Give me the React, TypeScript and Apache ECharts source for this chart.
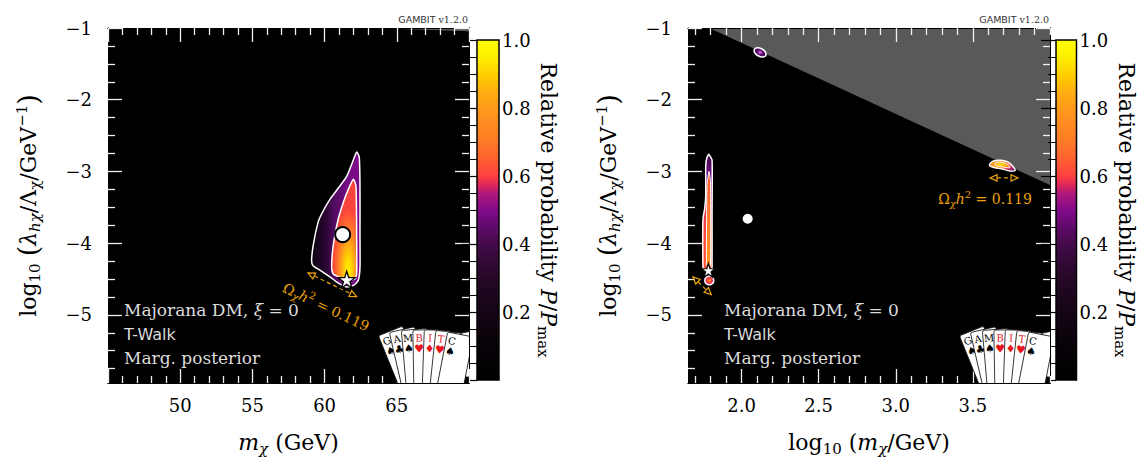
import React, { useEffect, useRef } from 'react';
import * as echarts from 'echarts';

type Pt = [number, number];

const SERIF = "'DejaVu Serif', serif";
const SANS = "'DejaVu Sans', sans-serif";
const TICK_WHITE = '#f0f0f0';
const ORANGE = '#eda20c';
const ANNOT = '#dcdcdc';

// ---------------- axis ranges & ticks ----------------
const leftXRange: Pt = [45, 70];
const rightXRange: Pt = [1.653, 4.0];
const yRange: Pt = [-5.95, -1];
const cbRange: Pt = [0, 1];

const leftXMajor = [45, 50, 55, 60, 65, 70];
const leftXMinor = [46, 47, 48, 49, 51, 52, 53, 54, 56, 57, 58, 59, 61, 62, 63, 64, 66, 67, 68, 69];
const leftXLabels = [50, 55, 60, 65];
const rightXMajor = [2.0, 2.5, 3.0, 3.5];
const rightXMinor = [1.7, 1.8, 1.9, 2.1, 2.2, 2.3, 2.4, 2.6, 2.7, 2.8, 2.9, 3.1, 3.2, 3.3, 3.4, 3.6, 3.7, 3.8, 3.9, 4.0];
const rightXLabels = [2.0, 2.5, 3.0, 3.5];
const yMajor = [-5, -4, -3, -2, -1];
const yMinor = [-5.75, -5.5, -5.25, -4.75, -4.5, -4.25, -3.75, -3.5, -3.25, -2.75, -2.5, -2.25, -1.75, -1.5, -1.25];
const yLabels = [-5, -4, -3, -2, -1];

// ---------------- colour map (relative probability) ----------------
const cmap: [number, string][] = [
  [0, '#000000'], [0.1, '#080208'], [0.2, '#150515'], [0.3, '#260826'], [0.4, '#430a4a'],
  [0.45, '#600a6a'], [0.5, '#820a8a'], [0.55, '#b0187a'], [0.575, '#e02858'], [0.6, '#ff4040'],
  [0.65, '#ff6030'], [0.7, '#ff7a28'], [0.8, '#ff9a1a'], [0.85, '#ffb010'], [0.9, '#ffd000'],
  [0.95, '#ffee00'], [1, '#ffff00'],
];

// ---------------- left panel: m_chi (GeV) ----------------
const grayLeft: Pt[] = [[63.1, -1], [70, -1.045], [70, -1]];
const outer95Left: Pt[] = [
  [62.22, -2.73], [62.4, -2.8], [62.45, -3.2], [62.45, -3.88], [62.45, -4.34], [62.33, -4.52],
  [61.99, -4.59], [61.53, -4.61], [60.9, -4.55], [60.37, -4.47], [59.7, -4.38], [59.22, -4.32],
  [59.1, -4.25], [59.22, -4.02], [59.56, -3.7], [59.8, -3.59], [60.37, -3.39], [61.07, -3.2],
  [61.53, -3.07], [61.99, -2.84],
];
const inner68Left: Pt[] = [
  [61.99, -3.11], [62.17, -3.2], [62.22, -3.88], [62.22, -4.43], [62.1, -4.5], [61.64, -4.52],
  [61.07, -4.48], [60.6, -4.43], [60.49, -4.34], [60.55, -4.11], [60.72, -3.88], [60.95, -3.66],
  [61.3, -3.43], [61.64, -3.25],
];
const meanLeft: Pt = [61.25, -3.88];
const bestLeft: Pt = [61.53, -4.51];
const arrowLeft: Pt[] = [[58.85, -4.415], [62.22, -4.745]];

// ---------------- right panel: log10(m_chi/GeV) ----------------
const grayRight: Pt[] = [[1.79, -1], [4.0, -3.19], [4.0, -1]];
const outer95Right: Pt[] = [
  [1.787, -2.76], [1.809, -2.84], [1.809, -3.57], [1.809, -4.34], [1.804, -4.38], [1.783, -4.41],
  [1.755, -4.37], [1.75, -4.34], [1.75, -3.66], [1.761, -3.52], [1.768, -3.34], [1.768, -2.93],
  [1.774, -2.82],
];
const inner68Right: Pt[] = [
  [1.789, -3.0], [1.799, -3.14], [1.799, -4.29], [1.786, -4.35], [1.773, -4.29], [1.776, -3.2],
];
const blobStarRight: Pt[] = [
  [1.82, -4.52], [1.812, -4.477], [1.791, -4.459], [1.77, -4.477], [1.762, -4.52], [1.77, -4.563],
  [1.791, -4.581], [1.812, -4.563],
];
const blobTopRight: Pt[] = [
  [2.157, -1.384], [2.137, -1.405], [2.107, -1.387], [2.085, -1.342], [2.084, -1.296],
  [2.103, -1.275], [2.133, -1.293], [2.155, -1.338],
];
const blobHighRight: Pt[] = [
  [3.611, -2.891], [3.637, -2.85], [3.676, -2.844], [3.722, -2.864], [3.754, -2.918], [3.774, -2.986],
  [3.741, -2.993], [3.689, -2.966], [3.637, -2.946], [3.611, -2.925],
];
const blobHighInnerRight: Pt[] = [
  [3.644, -2.884], [3.683, -2.871], [3.722, -2.898], [3.741, -2.946], [3.696, -2.939], [3.65, -2.918],
];
const meanRight: Pt = [2.04, -3.66];
const bestRight: Pt = [1.785, -4.38];
const arrowRight1: Pt[] = [[1.685, -4.47], [1.804, -4.72]];
const arrowRight2: Pt[] = [[3.611, -3.09], [3.793, -3.09]];

// ---------------- logo cards ----------------
const cardLetters = ['G', 'A', 'M', 'B', 'I', 'T', 'C'];
const cardSuits = ['♠', '♣', '♠', '♥', '♦', '♥', '♠'];
const cardRed = [false, false, false, true, true, true, false];

// ---------------- helpers ----------------
const stops = (s: [number, string][]) => s.map(([offset, color]) => ({ offset, color }));
const lin = (x: number, y: number, x2: number, y2: number, s: [number, string][]) =>
  ({ type: 'linear', x, y, x2, y2, colorStops: stops(s), global: false });
const rad = (x: number, y: number, r: number, s: [number, string][]) =>
  ({ type: 'radial', x, y, r, colorStops: stops(s), global: false });

const fmtNum = (v: number) => (v < 0 ? '\u2212' + Math.abs(v) : String(v));

const richTitle = {
  n: { fontFamily: SERIF, fontSize: 22, color: '#000' },
  i: { fontFamily: SERIF, fontSize: 22, fontStyle: 'italic', color: '#000' },
  s: { fontFamily: SERIF, fontSize: 15, color: '#000', padding: [12, 0, 0, 0] },
  si: { fontFamily: SERIF, fontSize: 15, fontStyle: 'italic', color: '#000', padding: [12, 0, 0, 0] },
  p: { fontFamily: SERIF, fontSize: 15, color: '#000', padding: [0, 0, 14, 0] },
  b: { fontFamily: SERIF, fontSize: 27, color: '#000' },
};

const yName = '{n|log}{s|10}{n| }{b|(}{i|λ}{si|hχ}{n|/Λ}{s|χ}{n|/GeV}{p|−1}{b|)}';
const xNameLeft = '{i|m}{si|χ}{n| (GeV)}';
const xNameRight = '{n|log}{s|10}{n| (}{i|m}{si|χ}{n|/GeV)}';
const cbName = '{n|Relative probability }{i|P}{n|/}{i|P}{s|max}';

const labelStyle = { show: true, fontFamily: SERIF, fontSize: 18, color: '#000' };

function axis(gridIndex: number, position: string, range: Pt, ticks: number[], len: number, extra: any = {}) {
  return {
    type: 'value', gridIndex, position, min: range[0], max: range[1], z: 5,
    axisLine: { show: true, onZero: false, lineStyle: { color: '#000', width: 1 } },
    axisTick: { show: true, inside: true, length: len, customValues: ticks, lineStyle: { color: TICK_WHITE, width: 1.3 } },
    axisLabel: { show: false },
    splitLine: { show: false },
    ...extra,
  };
}

function panelAxes(gi: number, xr: Pt, xMaj: number[], xMin: number[], xLab: number[], xFmt: (v: number) => string, xName: string) {
  const xs = [
    axis(gi, 'bottom', xr, xMaj, 14, {
      axisLabel: { ...labelStyle, customValues: xLab, formatter: xFmt, margin: 13 },
      name: xName, nameLocation: 'middle', nameGap: 46, nameTextStyle: { rich: richTitle },
    }),
    axis(gi, 'bottom', xr, xMin, 7),
    axis(gi, 'top', xr, xMaj, 14),
    axis(gi, 'top', xr, xMin, 7),
  ];
  const ys = [
    axis(gi, 'left', yRange, yMajor, 14, {
      axisLabel: { ...labelStyle, customValues: yLabels, formatter: fmtNum, margin: 16 },
      name: yName, nameLocation: 'middle', nameRotate: 90, nameGap: 65, nameTextStyle: { rich: richTitle },
    }),
    axis(gi, 'left', yRange, yMinor, 7),
    axis(gi, 'right', yRange, yMajor, 14),
    axis(gi, 'right', yRange, yMinor, 7),
  ];
  return { xs, ys };
}

function cbAxes(gi: number) {
  return {
    x: { type: 'value', gridIndex: gi, min: cbRange[0], max: cbRange[1], show: false },
    y: {
      type: 'value', gridIndex: gi, position: 'right', min: cbRange[0], max: cbRange[1], interval: 0.2, z: 5,
      axisLine: { show: false },
      axisTick: { show: true, inside: true, length: 15, lineStyle: { color: '#000', width: 1.2 } },
      minorTick: { show: true, splitNumber: 4, length: 8, lineStyle: { color: '#000', width: 1 } },
      axisLabel: { ...labelStyle, margin: 3, formatter: (v: number) => (v === 0 ? '' : v.toFixed(1)) },
      splitLine: { show: false },
      name: cbName, nameLocation: 'middle', nameRotate: -90, nameGap: 36, nameTextStyle: { rich: richTitle },
    },
  };
}

function polygon(p: number, pts: Pt[], style: any, z = 3, smooth = 0) {
  return {
    type: 'custom', xAxisIndex: p * 4, yAxisIndex: p * 4, z, clip: true, silent: true,
    data: pts,
    renderItem: (params: any, api: any) => {
      if (params.dataIndex !== 0) return null;
      return { type: 'polygon', shape: { points: pts.map((q) => api.coord(q)), smooth }, style };
    },
  };
}

function arrow(p: number, pts: Pt[]) {
  return {
    type: 'custom', xAxisIndex: p * 4, yAxisIndex: p * 4, z: 7, silent: true,
    data: pts,
    renderItem: (params: any, api: any) => {
      if (params.dataIndex !== 0) return null;
      const a = api.coord(pts[0]);
      const b = api.coord(pts[1]);
      const dx = b[0] - a[0], dy = b[1] - a[1];
      const L = Math.hypot(dx, dy);
      const ux = dx / L, uy = dy / L, px = -uy, py = ux;
      const hl = 7, hw = 3.2;
      const st = { stroke: ORANGE, lineWidth: 1.2, fill: 'none' };
      return {
        type: 'group',
        children: [
          { type: 'line', shape: { x1: a[0] + ux * hl, y1: a[1] + uy * hl, x2: b[0] - ux * hl, y2: b[1] - uy * hl }, style: { ...st, lineDash: [4, 3] } },
          { type: 'polygon', shape: { points: [a, [a[0] + ux * hl + px * hw, a[1] + uy * hl + py * hw], [a[0] + ux * hl - px * hw, a[1] + uy * hl - py * hw]] }, style: st },
          { type: 'polygon', shape: { points: [b, [b[0] - ux * hl + px * hw, b[1] - uy * hl + py * hw], [b[0] - ux * hl - px * hw, b[1] - uy * hl - py * hw]] }, style: st },
        ],
      };
    },
  };
}

const STAR = 'path://M50,0 L61.2,34.5 L97.6,34.5 L68.2,55.9 L79.4,90.5 L50,69.1 L20.6,90.5 L31.8,55.9 L2.4,34.5 L38.8,34.5 Z';

function point(p: number, pt: Pt, symbol: string, size: number, border: number) {
  return {
    type: 'scatter', xAxisIndex: p * 4, yAxisIndex: p * 4, z: 8, silent: true,
    data: [pt], symbol, symbolSize: size,
    itemStyle: { color: '#fff', borderColor: '#000', borderWidth: border, opacity: 1 },
  };
}

function logo(p: number, corner: Pt) {
  return {
    type: 'custom', xAxisIndex: p * 4, yAxisIndex: p * 4, z: 20, clip: true, silent: true,
    data: [corner],
    renderItem: (params: any, api: any) => {
      const c = api.coord([api.value(0), api.value(1)]);
      const R = c[0], B = c[1];
      const children: any[] = [];
      const cardStyle = { fill: '#fff', stroke: '#111', lineWidth: 0.8 };
      [12, 5, -1, -6].forEach((deg, k) => {
        children.push({ type: 'rect', x: R - 44 + k * 2, y: B - 38 + k * 2, rotation: (deg * Math.PI) / 180,
          shape: { x: 0, y: -4, width: 80, height: 26, r: 2 }, style: cardStyle });
      });
      const lx = [-82, -72, -61, -50, -39, -28, -17];
      const ly = [-42, -44, -45, -45, -45, -44, -42];
      const ang = [22, 13, 5, 1, -2, -6, -11];
      cardLetters.forEach((L, i) => {
        const col = cardRed[i] ? '#e8141c' : '#000';
        children.push({
          type: 'group', x: R + lx[i], y: B + ly[i], rotation: (ang[i] * Math.PI) / 180,
          children: [
            { type: 'rect', shape: { x: -6, y: -8, width: 26, height: 72, r: 2 }, style: cardStyle },
            { type: 'text', x: 0, y: 0, style: { text: L, fontFamily: SERIF, fontSize: 10, fill: col, align: 'center', verticalAlign: 'middle' } },
            { type: 'text', x: 0, y: 11, style: { text: cardSuits[i], fontFamily: SANS, fontSize: 11, fill: col, align: 'center', verticalAlign: 'middle' } },
          ],
        });
      });
      return { type: 'group', children };
    },
  };
}

function colorbar(idx: number) {
  return {
    type: 'custom', xAxisIndex: idx, yAxisIndex: idx, z: 2, silent: true,
    data: [[cbRange[0], cbRange[0]]],
    renderItem: (params: any, api: any) => {
      const a = api.coord([cbRange[0], cbRange[0]]);
      const b = api.coord([cbRange[1], cbRange[1]]);
      return {
        type: 'rect',
        shape: { x: a[0], y: b[1], width: b[0] - a[0], height: a[1] - b[1] },
        style: { fill: lin(0, 1, 0, 0, cmap), stroke: '#000', lineWidth: 1.5 },
      };
    },
  };
}

const whiteLine = { stroke: '#ffffff', lineWidth: 1.5 };

function annotText(x: number) {
  const r = {
    n: { fontFamily: SERIF, fontSize: 17, fill: ANNOT },
    i: { fontFamily: SERIF, fontSize: 17, fontStyle: 'italic', fill: ANNOT },
  };
  return [
    { type: 'text', x, y: 310, z: 30, silent: true, style: { text: '{n|Majorana DM, }{i|ξ}{n| = 0}', rich: r, align: 'left', verticalAlign: 'middle' } },
    { type: 'text', x, y: 334, z: 30, silent: true, style: { text: 'T-Walk', fontFamily: SANS, fontSize: 16, fill: ANNOT, align: 'left', verticalAlign: 'middle' } },
    { type: 'text', x, y: 358, z: 30, silent: true, style: { text: 'Marg. posterior', fontFamily: SERIF, fontSize: 17, fill: ANNOT, align: 'left', verticalAlign: 'middle' } },
  ];
}

function gambitTag(x: number) {
  return {
    type: 'text', x, y: 19, z: 30, silent: true,
    style: {
      text: '{a|GAMBIT}{b| v1.2.0}', align: 'right', verticalAlign: 'middle',
      rich: { a: { fontFamily: SANS, fontSize: 9.5, fill: '#333' }, b: { fontFamily: SERIF, fontSize: 9.5, fill: '#333' } },
    },
  };
}

const omegaRich = {
  n: { fontFamily: SERIF, fontSize: 14, fill: ORANGE },
  i: { fontFamily: SERIF, fontSize: 14, fontStyle: 'italic', fill: ORANGE },
  s: { fontFamily: SERIF, fontSize: 10, fontStyle: 'italic', fill: ORANGE, padding: [8, 0, 0, 0] },
  p: { fontFamily: SERIF, fontSize: 10, fill: ORANGE, padding: [0, 0, 9, 0] },
};
const omegaText = '{n|Ω}{s|χ}{i|h}{p|2}{n| = 0.119}';

function buildOption() {
  const L = panelAxes(0, leftXRange, leftXMajor, leftXMinor, leftXLabels, (v) => String(v), xNameLeft);
  const Rr = panelAxes(1, rightXRange, rightXMajor, rightXMinor, rightXLabels, (v) => v.toFixed(1), xNameRight);
  const c0 = cbAxes(2);
  const c1 = cbAxes(3);

  const series: any[] = [
    colorbar(8), colorbar(9),
    // left panel
    polygon(0, grayLeft, { fill: '#595959' }, 2),
    polygon(0, outer95Left, { ...whiteLine, fill: lin(0, 0, 1, 0, [[0, '#0a0210'], [0.3, '#2a0632'], [0.45, '#4e0a5c'], [0.7, '#700c80'], [1, '#7e0a8a']]) }, 3, 0.2),
    polygon(0, inner68Left, { ...whiteLine, fill: rad(0.66, 0.9, 0.62, [[0, '#fff200'], [0.2, '#ffd800'], [0.42, '#ffa81a'], [0.65, '#ff7c28'], [0.85, '#ff5a34'], [1, '#f8443c']]) }, 4, 0.2),
    arrow(0, arrowLeft),
    point(0, meanLeft, 'circle', 15, 2),
    point(0, bestLeft, STAR, 17, 1.3),
    logo(0, [leftXRange[1], yRange[0]]),
    // right panel
    polygon(1, grayRight, { fill: '#595959' }, 2),
    polygon(1, outer95Right, { ...whiteLine, fill: lin(0, 0, 0, 1, [[0, '#3a0848'], [0.15, '#6a0c7a'], [0.3, '#a0147a'], [0.45, '#e03050'], [0.7, '#ff4a3c'], [1, '#ff5a34']]) }, 3, 0.15),
    polygon(1, inner68Right, { stroke: '#ffffff', lineWidth: 1, fill: lin(0, 0, 0, 1, [[0, '#ff5a34'], [0.5, '#ff7a28'], [1, '#ff9a1a']]) }, 4, 0.15),
    polygon(1, blobStarRight, { ...whiteLine, fill: rad(0.5, 0.5, 0.5, [[0, '#ff9a1a'], [0.5, '#ff4040'], [1, '#c0186a']]) }, 4, 0.4),
    polygon(1, blobTopRight, { ...whiteLine, fill: rad(0.5, 0.5, 0.5, [[0, '#e6a0e6'], [0.2, '#b04ab8'], [0.45, '#6a0c7a'], [1, '#3a0848']]) }, 4, 0.4),
    polygon(1, blobHighRight, { ...whiteLine, fill: rad(0.35, 0.4, 0.8, [[0, '#ffd000'], [0.3, '#ff9a1a'], [0.6, '#e03050'], [1, '#6a0c7a']]) }, 4, 0.4),
    polygon(1, blobHighInnerRight, { stroke: '#ffffff', lineWidth: 1, fill: rad(0.4, 0.45, 0.7, [[0, '#ffee00'], [0.5, '#ffb010'], [1, '#ff6030']]) }, 5, 0.4),
    arrow(1, arrowRight1),
    arrow(1, arrowRight2),
    point(1, meanRight, 'circle', 10, 0),
    point(1, bestRight, STAR, 14, 1.2),
    logo(1, [rightXRange[1], yRange[0]]),
  ];

  return {
    animation: false,
    backgroundColor: '#ffffff',
    grid: [
      { left: 108, top: 28, width: 361, height: 364, show: true, backgroundColor: '#000', borderWidth: 0 },
      { left: 688, top: 28, width: 362, height: 364, show: true, backgroundColor: '#000', borderWidth: 0 },
      { left: 477, top: 40, width: 22, height: 340 },
      { left: 1056, top: 40, width: 22, height: 340 },
    ],
    xAxis: [...L.xs, ...Rr.xs, c0.x, c1.x],
    yAxis: [...L.ys, ...Rr.ys, c0.y, c1.y],
    series,
    graphic: [
      ...annotText(124),
      ...annotText(724),
      gambitTag(468),
      gambitTag(1049),
      { type: 'text', x: 326, y: 307, rotation: -0.44, z: 30, silent: true, style: { text: omegaText, rich: omegaRich, align: 'center', verticalAlign: 'middle' } },
      { type: 'text', x: 985, y: 199, z: 30, silent: true, style: { text: omegaText, rich: omegaRich, align: 'center', verticalAlign: 'middle' } },
    ],
  };
}

export default function App() {
  const ref = useRef<HTMLDivElement>(null);
  useEffect(() => {
    if (!ref.current) return;
    const chart = echarts.init(ref.current, null, { renderer: 'svg' });
    chart.setOption(buildOption() as any);
    return () => chart.dispose();
  }, []);
  return <div ref={ref} style={{ position: 'fixed', left: 0, top: 0, width: 1138, height: 461 }} />;
}
